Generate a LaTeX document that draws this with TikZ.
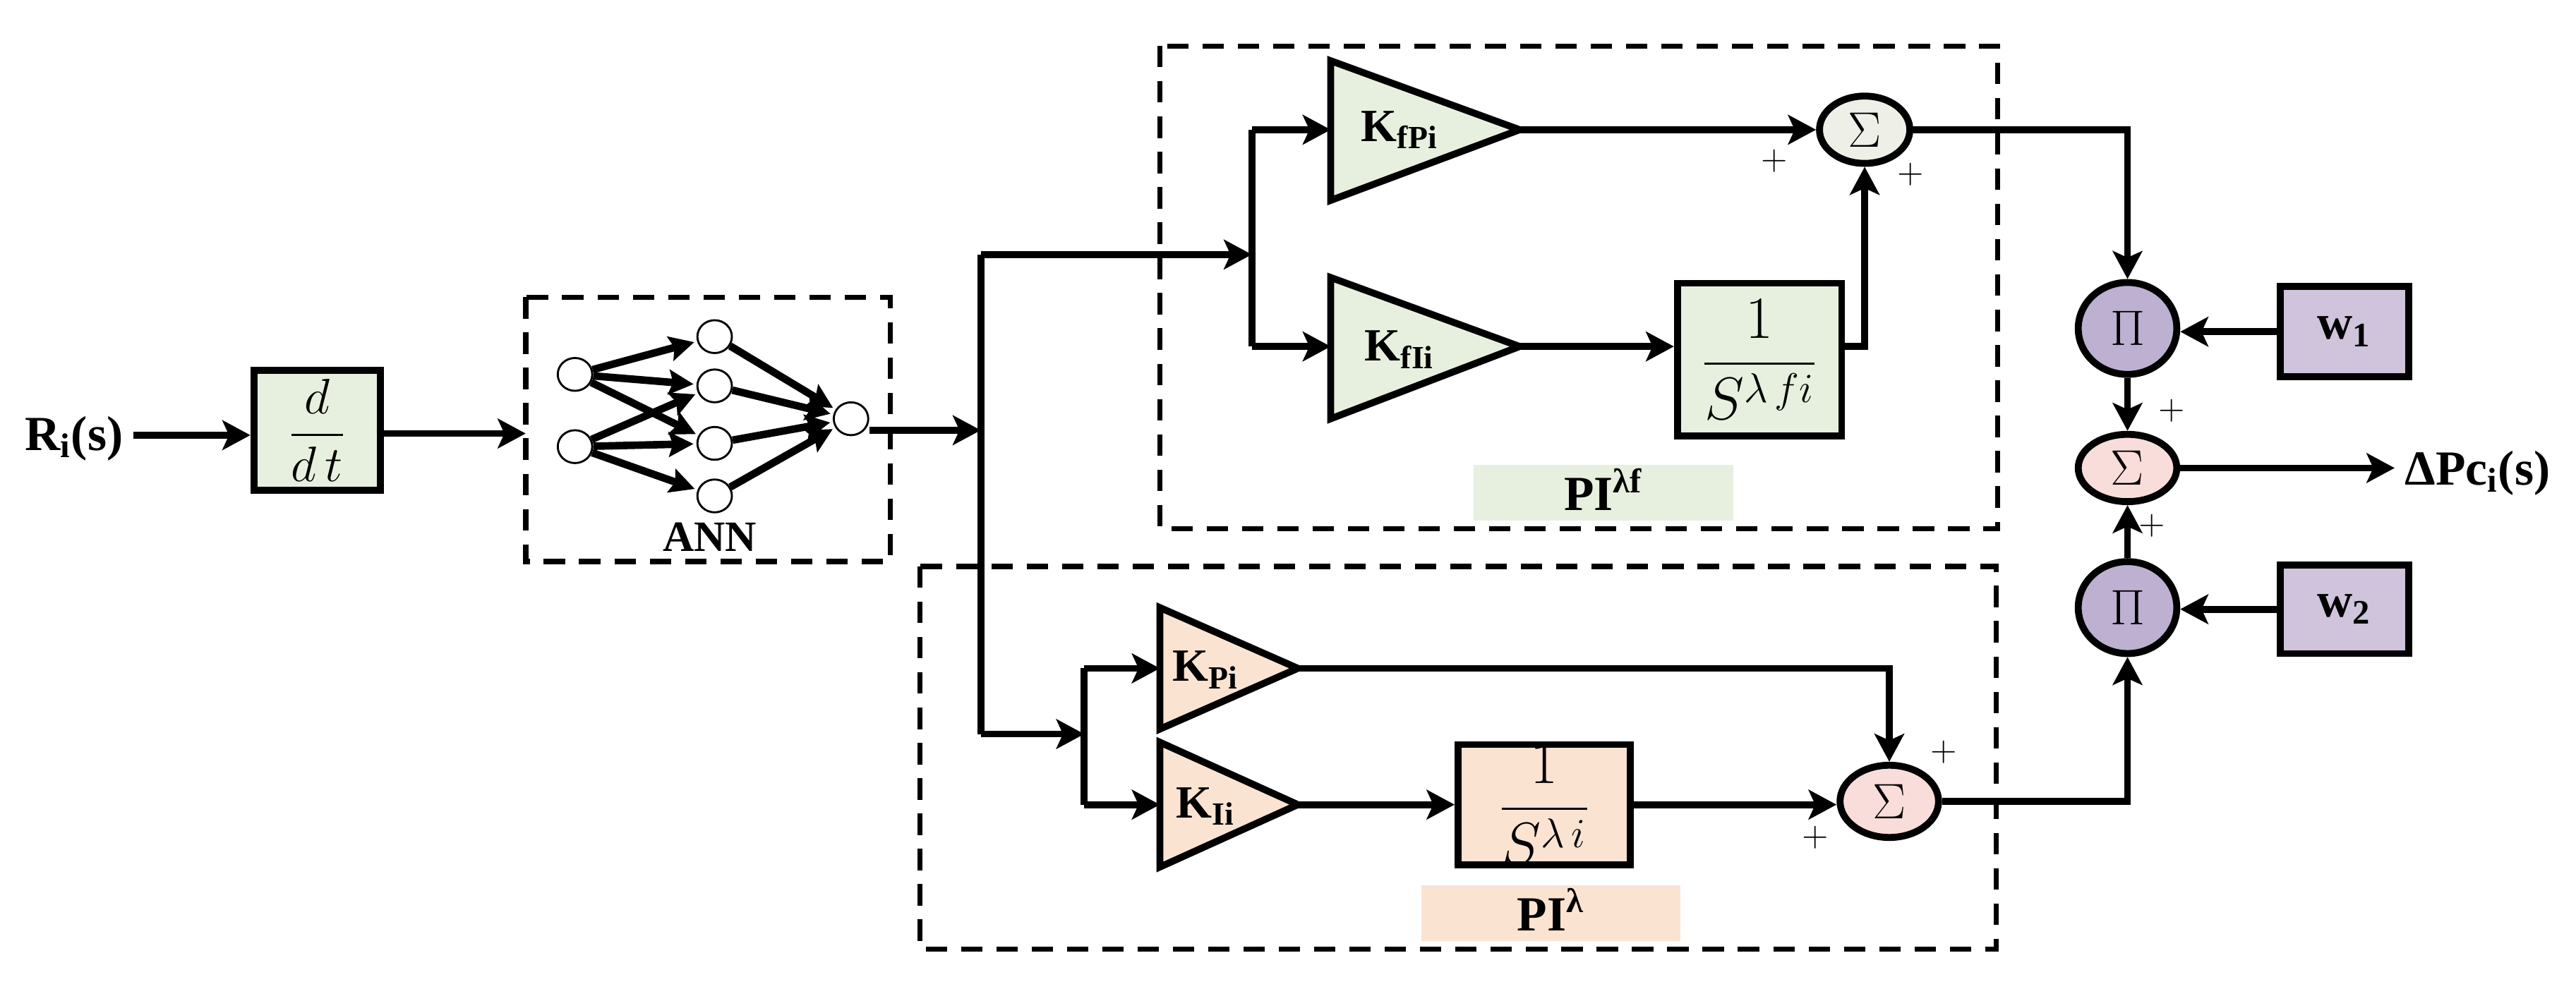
\documentclass[tikz,border=0pt]{standalone}
\usepackage{amsmath}
\usepackage{fontspec}
\setmainfont{Liberation Serif}
\usetikzlibrary{arrows.meta,shapes.geometric}
\definecolor{gbg}{HTML}{E7F0DF}
\definecolor{sumg}{HTML}{EEF0E8}
\definecolor{pinkf}{HTML}{F9DDDA}
\definecolor{purpf}{HTML}{BDB0D1}
\definecolor{wbox}{HTML}{D0C3DC}
\definecolor{orf}{HTML}{FBE3D2}
\begin{document}
\begin{tikzpicture}[x=0.02cm,y=-0.02cm,
  conn/.style={line width=2.4pt},
  arr/.style={conn,-{Stealth[length=0.34cm,width=0.36cm,inset=0.08cm]}},
  dbox/.style={line width=1.8pt,dash pattern=on 0.26cm off 0.17cm},
  blk/.style={draw,line width=2.4pt,inner sep=0pt},
  trip/.style={draw,line width=2.4pt,line join=miter},
  circ/.style={draw,line width=2.4pt,ellipse,inner sep=0pt},
  neu/.style={draw,line width=0.7pt,ellipse,fill=white,minimum width=0.42cm,minimum height=0.4cm,inner sep=0pt},
  nar/.style={line width=2.6pt,-{Stealth[length=0.3cm,width=0.3cm,inset=0.05cm]},shorten >=1pt},
  lab/.style={font=\fontsize{17}{19}\selectfont\bfseries},
  klab/.style={font=\fontsize{16}{17}\selectfont\bfseries},
  pls/.style={font=\fontsize{13}{14}\selectfont}]
\useasboundingbox (0,0) rectangle (1568,602);
% dashed boxes
\draw[dbox] (320,181) rectangle (542,342);
\draw[dbox] (706,28) rectangle (1216,322);
\draw[dbox] (560,345) rectangle (1215,578);
\node[fill=gbg,minimum width=3.16cm,minimum height=0.68cm] (lbf) at (976,300) {};
\node[lab] at (976,298) {PI\textsuperscript{λf}};
\node[fill=orf,minimum width=3.16cm,minimum height=0.68cm] (lbl) at (944,556) {};
\node[lab] at (944,554) {PI\textsuperscript{λ}};
% input
\node[lab] (ri) at (45,267) {R\textsubscript{i}(s)};
\node[blk,fill=gbg,minimum width=1.54cm,minimum height=1.46cm] (dd) at (193,262) {\fontsize{19}{20}\selectfont$\dfrac{d}{d\,t}$};
\draw[arr] (ri.east|-0,265) -- (dd.west|-0,265);
% ANN
\node[neu] (i1) at (350,228) {};
\node[neu] (i2) at (350,272) {};
\node[neu] (h1) at (435,205) {};
\node[neu] (h2) at (435,235) {};
\node[neu] (h3) at (435,270) {};
\node[neu] (h4) at (435,302) {};
\node[neu] (o) at (518,255) {};
\foreach \a/\b in {i1/h1,i1/h2,i1/h3,i2/h2,i2/h3,i2/h4,h1/o,h2/o,h3/o,h4/o}
  \draw[nar] (\a) -- (\b);
\node[klab,font=\fontsize{15}{16}\selectfont\bfseries] (ann) at (432,327) {ANN};
\coordinate (annin) at (320,264);
\draw[arr] (dd.east|-annin) -- (annin);
\coordinate (sp) at (597,262);
\draw[arr] (o.east|-sp) -- (sp);
\coordinate (st) at (597,155);
\coordinate (sb) at (597,447);
\draw[conn] (st) -- (sb);
% upper PI
\coordinate (ua) at (762,155);
\draw[arr] (st) -- (ua);
\coordinate (ut) at (762,79);
\coordinate (ub) at (762,211);
\draw[conn] (ut) -- (ub);
\coordinate (kfpa) at (925,79); \coordinate (kfpw) at (810,79);
\draw[trip,fill=gbg] (810,37) -- (kfpa) -- (810,122) -- cycle;
\node[klab] at (852,79) {K\textsubscript{fPi}};
\coordinate (kfia) at (925,211); \coordinate (kfiw) at (810,211);
\draw[trip,fill=gbg] (810,169) -- (kfia) -- (810,255) -- cycle;
\node[klab] at (852,213) {K\textsubscript{fIi}};
\draw[arr] (ut) -- (kfpw);
\draw[arr] (ub) -- (kfiw);
\node[circ,fill=sumg,minimum width=1.1cm,minimum height=0.82cm] (s1) at (1135,79) {\fontsize{18}{18}\selectfont$\Sigma$};
\draw[arr] (kfpa) -- (s1.west);
\node[blk,fill=gbg,minimum width=2.0cm,minimum height=1.86cm] (if) at (1071,219) {\fontsize{20}{22}\selectfont$\dfrac{1}{S^{\lambda\, fi}}$};
\draw[arr] (kfia) -- (if.west|-kfia);
\draw[arr] (if.east|-kfia) -| (s1.south);
\node[pls] at (1080,98) {$+$};
\node[pls] at (1163,106) {$+$};
% lower PI
\coordinate (la) at (660,447);
\draw[arr] (sb) -- (la);
\coordinate (lt) at (660,407);
\coordinate (lb) at (660,490);
\draw[conn] (lt) -- (lb);
\coordinate (kpa) at (790,407); \coordinate (kpw) at (706,407);
\draw[trip,fill=orf] (706,370) -- (kpa) -- (706,444) -- cycle;
\node[klab] at (734,408) {K\textsubscript{Pi}};
\coordinate (kia) at (790,490); \coordinate (kiw) at (706,490);
\draw[trip,fill=orf] (706,452) -- (kia) -- (706,528) -- cycle;
\node[klab] at (734,491) {K\textsubscript{Ii}};
\draw[arr] (lt) -- (kpw);
\draw[arr] (lb) -- (kiw);
\node[circ,fill=pinkf,minimum width=1.2cm,minimum height=0.88cm] (s2) at (1150,488) {\fontsize{18}{18}\selectfont$\Sigma$};
\node[blk,fill=orf,minimum width=2.1cm,minimum height=1.4cm] (il) at (940,490) {\fontsize{20}{22}\selectfont$\dfrac{1}{S^{\lambda\, i}}$};
\draw[arr] (kia) -- (il.west);
\draw[arr] (il.east) -- (s2.west|-il.east);
\draw[arr] (kpa) -| (s2.north);
\node[pls] at (1183,458) {$+$};
\node[pls] at (1105,510) {$+$};
% output section
\node[circ,fill=purpf,minimum width=1.2cm,minimum height=1.12cm] (p1) at (1295,200) {\fontsize{18}{18}\selectfont$\Pi$};
\node[circ,fill=purpf,minimum width=1.2cm,minimum height=1.12cm] (p2) at (1295,370) {\fontsize{18}{18}\selectfont$\Pi$};
\node[circ,fill=pinkf,minimum width=1.2cm,minimum height=0.82cm] (s3) at (1295,285) {\fontsize{18}{18}\selectfont$\Sigma$};
\node[blk,fill=wbox,minimum width=1.56cm,minimum height=1.1cm] (w1) at (1427,202) {\fontsize{17}{18}\selectfont\bfseries w\textsubscript{1}};
\node[blk,fill=wbox,minimum width=1.56cm,minimum height=1.08cm] (w2) at (1427,371) {\fontsize{17}{18}\selectfont\bfseries w\textsubscript{2}};
\draw[arr] (s1.east) -| (p1.north);
\draw[arr] (w1.west) -- (p1.east|-w1.west);
\draw[arr] (w2.west) -- (p2.east|-w2.west);
\draw[arr] (p1.south) -- (s3.north);
\draw[arr] (p2.north) -- (s3.south);
\draw[arr] (s2.east) -| (p2.south);
\node[lab] (dp) at (1508,288) {ΔPc\textsubscript{i}(s)};
\draw[arr] (s3.east) -- (dp.west|-s3.east);
\node[pls] at (1322,250) {$+$};
\node[pls] at (1310,320) {$+$};
\end{tikzpicture}
\end{document}
